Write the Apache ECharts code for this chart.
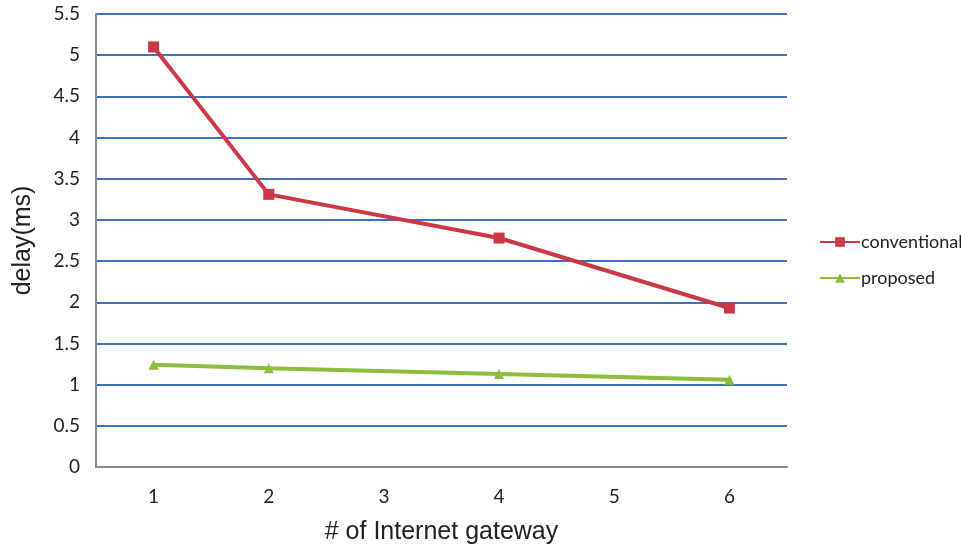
<!DOCTYPE html>
<html>
<head>
<meta charset="utf-8">
<script src="https://cdn.jsdelivr.net/npm/echarts@6/dist/echarts.min.js"></script>
<style>
  html, body { margin: 0; padding: 0; background: #fff; }
  #chart { width: 961px; height: 549px; }
</style>
</head>
<body>
<div id="chart"></div>
<script>
// Number of Internet gateways (x categories)
const gateways = ['1', '2', '3', '4', '5', '6'];
// Delay in ms; null where no measurement was taken
const conventional = [5.1, 3.31, null, 2.78, null, 1.93];
const proposed = [1.24, 1.2, null, 1.13, null, 1.06];
const yTicks = { min: 0, max: 5.5, interval: 0.5 };

const chart = echarts.init(document.getElementById('chart'));
chart.setOption({
  backgroundColor: '#ffffff',
  animation: false,
  grid: { left: 96, right: 174, top: 14, bottom: 82, outerBoundsMode: 'none', containLabel: false },
  legend: {
    orient: 'vertical',
    left: 814,
    top: 228,
    itemWidth: 40,
    itemHeight: 12,
    itemGap: 18,
    textStyle: { fontFamily: 'Lato, "Open Sans", sans-serif', fontSize: 18, color: '#222', padding: [0, 0, 0, -4] },
    data: ['conventional', 'proposed']
  },
  xAxis: {
    type: 'category',
    data: gateways,
    boundaryGap: true,
    name: '# of Internet gateway',
    nameLocation: 'middle',
    nameGap: 53,
    nameTextStyle: { fontFamily: 'Liberation Sans, Arial, sans-serif', fontSize: 25, color: '#222' },
    axisLine: { lineStyle: { color: '#888', width: 2 } },
    axisTick: { show: false },
    axisLabel: { fontFamily: 'Lato, "Open Sans", sans-serif', fontSize: 19, color: '#222', margin: 20 },
    splitLine: { show: false }
  },
  yAxis: {
    type: 'value',
    min: yTicks.min,
    max: yTicks.max,
    interval: yTicks.interval,
    name: 'delay(ms)',
    nameLocation: 'middle',
    nameGap: 60,
    nameRotate: 90,
    nameTextStyle: { fontFamily: 'Liberation Sans, Arial, sans-serif', fontSize: 25, color: '#222' },
    axisLine: { show: true, lineStyle: { color: '#888', width: 2 } },
    axisTick: { show: false },
    axisLabel: { fontFamily: 'Lato, "Open Sans", sans-serif', fontSize: 19, color: '#222', margin: 16 },
    splitLine: { lineStyle: { color: '#3d6fc2', width: 2 } }
  },
  series: [
    {
      name: 'conventional',
      type: 'line',
      data: conventional,
      connectNulls: true,
      symbol: 'rect',
      symbolSize: 11,
      lineStyle: { color: '#cc3848', width: 4 },
      itemStyle: { color: '#cc3848' },
      z: 3
    },
    {
      name: 'proposed',
      type: 'line',
      data: proposed,
      connectNulls: true,
      symbol: 'triangle',
      symbolSize: 10,
      lineStyle: { color: '#8cbd3c', width: 4 },
      itemStyle: { color: '#8cbd3c' },
      z: 3
    }
  ]
});
</script>
</body>
</html>
